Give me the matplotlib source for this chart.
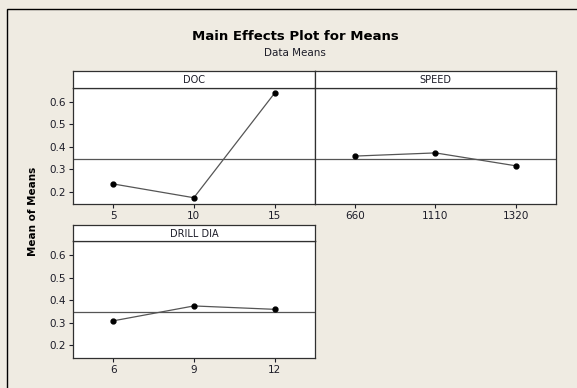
import matplotlib.pyplot as plt
from matplotlib.patches import Rectangle

# factor levels and the mean response at each level
doc_levels = ['5', '10', '15']
doc_means = [0.236, 0.175, 0.637]
speed_levels = ['660', '1110', '1320']
speed_means = [0.359, 0.373, 0.316]
drill_levels = ['6', '9', '12']
drill_means = [0.309, 0.375, 0.360]
grand_mean = 0.347

bg = '#efebe2'
txt = '#1c1c28'
W, H = 577, 388

fig = plt.figure(figsize=(W / 100, H / 100), dpi=100, facecolor=bg)
plt.rcParams['font.family'] = ['DejaVu Sans']

# outer frame (clipped at right/bottom like the screenshot)
fig.patches.append(Rectangle((7 / W, -0.1), 1.2, 1 - 9 / H + 0.1, transform=fig.transFigure,
                             fill=False, edgecolor='black', linewidth=1.0))


def rect(x0, x1, y0, y1):
    # pixel box -> figure fraction
    return [x0 / W, 1 - y1 / H, (x1 - x0) / W, (y1 - y0) / H]


def panel(x0, x1, y0, y1, name, levels, means, left_labels):
    ax = fig.add_axes(rect(x0, x1, y0, y1))
    ax.set_facecolor('white')
    pos = [1, 2, 3]
    ax.axhline(grand_mean, color='#555555', linewidth=0.9, zorder=1)
    ax.plot(pos, means, color='#555555', linewidth=0.9, zorder=2)
    ax.plot(pos, means, 'o', color='black', markersize=3.5, zorder=3)
    ax.set_xlim(0.5, 3.5)
    ax.set_ylim(0.146, 0.661)
    ax.set_xticks(pos)
    ax.set_xticklabels(levels)
    ax.set_yticks([0.2, 0.3, 0.4, 0.5, 0.6])
    ax.tick_params(direction='out', length=3, width=0.8, labelsize=7.5, colors=txt, pad=2)
    if not left_labels:
        ax.tick_params(axis='y', left=False, labelleft=False)
    for s in ax.spines.values():
        s.set_color('#303030')
        s.set_linewidth(0.9)
    # strip above the panel
    st = fig.add_axes(rect(x0, x1, y0 - 16.5, y0))
    st.set_facecolor('white')
    st.set_xticks([])
    st.set_yticks([])
    for s in st.spines.values():
        s.set_color('#303030')
        s.set_linewidth(0.9)
    st.text(0.5, 0.45, name, ha='center', va='center', fontsize=7, color=txt, transform=st.transAxes)
    return ax


panel(72.7, 315, 87.7, 204.3, 'DOC', doc_levels, doc_means, True)
panel(315, 556, 87.7, 204.3, 'SPEED', speed_levels, speed_means, False)
panel(72.7, 315, 241.3, 357.7, 'DRILL DIA', drill_levels, drill_means, True)

fig.text(295 / W, 1 - 37 / H, 'Main Effects Plot for Means', ha='center', va='center',
         fontsize=9.5, fontweight='bold', color='black')
fig.text(295 / W, 1 - 53 / H, 'Data Means', ha='center', va='center', fontsize=7.5, color=txt)
fig.text(33 / W, 1 - 211 / H, 'Mean of Means', ha='center', va='center', rotation=90,
         fontsize=7.5, fontweight='bold', color='black')

fig.savefig('out.png', dpi=100, facecolor=bg)
